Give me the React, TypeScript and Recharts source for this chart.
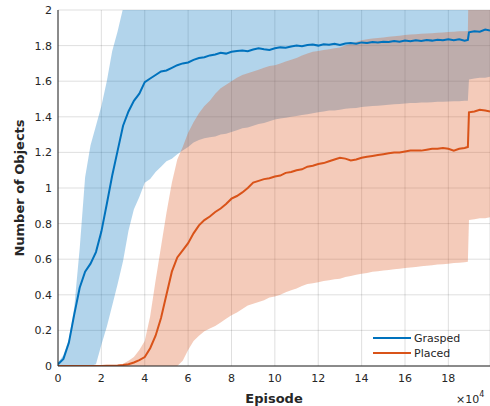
import React from "react";
import { ComposedChart, Area, Line, XAxis, YAxis, CartesianGrid } from "recharts";

// Episode (x 10^4)
const episodes = [
  0, 0.25, 0.5, 0.75, 1, 1.25, 1.5, 1.75, 2, 2.25, 2.5, 2.75, 3, 3.25, 3.5, 3.75,
  4, 4.25, 4.5, 4.75, 5, 5.25, 5.5, 5.75, 6, 6.25, 6.5, 6.75, 7, 7.25, 7.5, 7.75,
  8, 8.25, 8.5, 8.75, 9, 9.25, 9.5, 9.75, 10, 10.25, 10.5, 10.75, 11, 11.25, 11.5, 11.75,
  12, 12.25, 12.5, 12.75, 13, 13.25, 13.5, 13.75, 14, 14.25, 14.5, 14.75, 15, 15.25, 15.5, 15.75,
  16, 16.25, 16.5, 16.75, 17, 17.25, 17.5, 17.75, 18, 18.25, 18.5, 18.75, 18.9, 18.95, 19.2, 19.45,
  19.7, 19.92,
];

const graspedMean = [
  0.01, 0.04, 0.13, 0.29, 0.44, 0.53, 0.575, 0.64, 0.755, 0.91, 1.07, 1.21, 1.35, 1.43, 1.49, 1.53,
  1.595, 1.615, 1.635, 1.655, 1.66, 1.675, 1.69, 1.7, 1.705, 1.72, 1.73, 1.735, 1.745, 1.75, 1.76, 1.755,
  1.765, 1.77, 1.772, 1.768, 1.778, 1.785, 1.78, 1.776, 1.785, 1.79, 1.788, 1.795, 1.8, 1.797, 1.803, 1.806,
  1.8, 1.808, 1.805, 1.81, 1.803, 1.812, 1.815, 1.81, 1.818, 1.815, 1.82, 1.817, 1.822, 1.82, 1.826, 1.822,
  1.828, 1.824, 1.83, 1.826, 1.832, 1.828, 1.833, 1.83, 1.836, 1.83, 1.835, 1.828, 1.832, 1.875, 1.88, 1.878,
  1.89, 1.885,
];

const graspedLow = [
  0, 0, 0, 0, 0, 0, 0, 0.01, 0.12, 0.22, 0.34, 0.46, 0.59, 0.76, 0.88, 0.95,
  1.03, 1.05, 1.09, 1.12, 1.15, 1.165, 1.19, 1.21, 1.23, 1.255, 1.27, 1.28, 1.285, 1.29, 1.3, 1.305,
  1.315, 1.325, 1.335, 1.34, 1.35, 1.36, 1.365, 1.375, 1.385, 1.39, 1.395, 1.4, 1.405, 1.41, 1.415, 1.42,
  1.425, 1.43, 1.435, 1.435, 1.44, 1.445, 1.448, 1.45, 1.455, 1.458, 1.46, 1.462, 1.465, 1.467, 1.47, 1.472,
  1.475, 1.477, 1.478, 1.48, 1.48, 1.482, 1.484, 1.485, 1.486, 1.487, 1.488, 1.49, 1.49, 1.61, 1.615, 1.62,
  1.62, 1.625,
];

const graspedHigh = [
  0.02, 0.06, 0.15, 0.33, 0.66, 1.06, 1.24, 1.35, 1.46, 1.6, 1.77, 1.88, 2.01, 2.1, 2.15, 2.2,
  2.22, 2.24, 2.25, 2.26, 2.27, 2.28, 2.28, 2.29, 2.29, 2.3, 2.3, 2.3, 2.3, 2.3, 2.3, 2.3,
  2.3, 2.3, 2.3, 2.3, 2.3, 2.3, 2.3, 2.3, 2.3, 2.3, 2.3, 2.3, 2.3, 2.3, 2.3, 2.3,
  2.3, 2.3, 2.3, 2.3, 2.3, 2.3, 2.3, 2.3, 2.3, 2.3, 2.3, 2.3, 2.3, 2.3, 2.3, 2.3,
  2.3, 2.3, 2.3, 2.3, 2.3, 2.3, 2.3, 2.3, 2.3, 2.3, 2.3, 2.3, 2.3, 2.3, 2.3, 2.3,
  2.3, 2.3,
];

const placedMean = [
  0, 0, 0, 0, 0, 0, 0, 0, 0, 0.001, 0.002, 0.003, 0.006, 0.01, 0.02, 0.033,
  0.05, 0.1, 0.17, 0.27, 0.4, 0.53, 0.61, 0.65, 0.69, 0.745, 0.79, 0.82, 0.84, 0.865, 0.885, 0.91,
  0.94, 0.955, 0.975, 1.0, 1.03, 1.04, 1.05, 1.055, 1.065, 1.07, 1.085, 1.09, 1.1, 1.105, 1.12, 1.125,
  1.135, 1.14, 1.15, 1.16, 1.17, 1.165, 1.155, 1.16, 1.17, 1.175, 1.18, 1.185, 1.19, 1.195, 1.2, 1.2,
  1.205, 1.21, 1.21, 1.21, 1.215, 1.22, 1.22, 1.225, 1.22, 1.21, 1.22, 1.225, 1.23, 1.425, 1.43, 1.44,
  1.435, 1.43,
];

const placedLow = [
  0, 0, 0, 0, 0, 0, 0, 0, 0, 0, 0, 0, 0, 0, 0, 0,
  0, 0, 0, 0, 0, 0, 0, 0.03, 0.09, 0.14, 0.17, 0.195, 0.21, 0.225, 0.245, 0.265,
  0.285, 0.3, 0.32, 0.34, 0.35, 0.36, 0.37, 0.385, 0.39, 0.4, 0.415, 0.425, 0.435, 0.45, 0.46, 0.465,
  0.47, 0.478, 0.482, 0.487, 0.49, 0.5, 0.505, 0.513, 0.518, 0.523, 0.53, 0.533, 0.537, 0.54, 0.543, 0.546,
  0.55, 0.553, 0.556, 0.56, 0.563, 0.566, 0.57, 0.572, 0.575, 0.578, 0.58, 0.583, 0.585, 0.82, 0.825, 0.83,
  0.83, 0.835,
];

const placedHigh = [
  0, 0, 0, 0, 0, 0, 0, 0, 0, 0, 0, 0.002, 0.012, 0.03, 0.05, 0.09,
  0.14, 0.28, 0.48, 0.67, 0.86, 1.03, 1.16, 1.23, 1.31, 1.37, 1.42, 1.46, 1.49, 1.53, 1.56, 1.58,
  1.6, 1.62, 1.635, 1.645, 1.655, 1.665, 1.675, 1.685, 1.69, 1.7, 1.71, 1.72, 1.73, 1.745, 1.755, 1.765,
  1.77, 1.775, 1.78, 1.785, 1.79, 1.8, 1.81, 1.82, 1.83, 1.835, 1.84, 1.843, 1.846, 1.85, 1.852, 1.855,
  1.86, 1.862, 1.864, 1.866, 1.868, 1.87, 1.872, 1.874, 1.876, 1.878, 1.88, 1.88, 1.882, 2.3, 2.3, 2.3,
  2.3, 2.3,
];

const xTicks = [0, 2, 4, 6, 8, 10, 12, 14, 16, 18];
const yTicks = [0, 0.2, 0.4, 0.6, 0.8, 1, 1.2, 1.4, 1.6, 1.8, 2];
const seriesNames = ["Grasped", "Placed"];

const BLUE = "#0072BD";
const ORANGE = "#D95319";
const AXIS = "#262626";
const FONT = "'DejaVu Sans', sans-serif";

const data = episodes.map((x, i) => ({
  x,
  gMean: graspedMean[i],
  gBand: [graspedLow[i], graspedHigh[i]],
  pMean: placedMean[i],
  pBand: [placedLow[i], placedHigh[i]],
}));

export default function App() {
  const tickStyle = { fill: AXIS, fontSize: 11, fontFamily: FONT };
  return (
    <div style={{ position: "fixed", left: 0, top: 0, width: 490, height: 406, background: "#fff" }}>
      <ComposedChart
        width={490}
        height={406}
        data={data}
        margin={{ top: 10, right: 0, bottom: 10, left: 0 }}
      >
        <CartesianGrid stroke={AXIS} strokeOpacity={0.15} strokeWidth={1} />
        <XAxis
          dataKey="x"
          type="number"
          domain={[0, 19.92]}
          allowDataOverflow
          ticks={xTicks}
          height={30}
          tickLine={false}
          tickSize={0}
          tickMargin={8}
          tick={tickStyle}
          axisLine={{ stroke: AXIS, strokeWidth: 1 }}
        />
        <YAxis
          type="number"
          domain={[0, 2]}
          allowDataOverflow
          ticks={yTicks}
          width={58}
          tickLine={false}
          tickSize={0}
          tickMargin={6}
          tick={tickStyle}
          axisLine={{ stroke: AXIS, strokeWidth: 1 }}
        />
        <Area
          dataKey="gBand"
          type="linear"
          stroke="none"
          fill={BLUE}
          fillOpacity={0.3}
          isAnimationActive={false}
          legendType="none"
          activeDot={false}
        />
        <Line
          dataKey="gMean"
          type="linear"
          stroke={BLUE}
          strokeWidth={2}
          dot={false}
          activeDot={false}
          isAnimationActive={false}
          name={seriesNames[0]}
        />
        <Area
          dataKey="pBand"
          type="linear"
          stroke="none"
          fill={ORANGE}
          fillOpacity={0.3}
          isAnimationActive={false}
          legendType="none"
          activeDot={false}
        />
        <Line
          dataKey="pMean"
          type="linear"
          stroke={ORANGE}
          strokeWidth={2}
          dot={false}
          activeDot={false}
          isAnimationActive={false}
          name={seriesNames[1]}
        />
      </ComposedChart>
      <svg
        width={490}
        height={406}
        style={{ position: "absolute", left: 0, top: 0, pointerEvents: "none" }}
      >
        <text
          x={23.5}
          y={188}
          transform="rotate(-90, 23.5, 188)"
          textAnchor="middle"
          fontFamily={FONT}
          fontWeight="bold"
          fontSize={13}
          fill={AXIS}
        >
          Number of Objects
        </text>
        <text x={274} y={403} textAnchor="middle" fontFamily={FONT} fontWeight="bold" fontSize={13} fill={AXIS}>
          Episode
        </text>
        <text x={456} y={403} fontFamily={FONT} fontSize={11} fill={AXIS}>
          ×10
          <tspan dy={-6} fontSize={8}>4</tspan>
        </text>
        <line x1={373} x2={411} y1={338} y2={338} stroke={BLUE} strokeWidth={2} />
        <text x={414} y={342} fontFamily={FONT} fontSize={11} fill={AXIS}>
          {seriesNames[0]}
        </text>
        <line x1={373} x2={411} y1={353} y2={353} stroke={ORANGE} strokeWidth={2} />
        <text x={414} y={357} fontFamily={FONT} fontSize={11} fill={AXIS}>
          {seriesNames[1]}
        </text>
      </svg>
    </div>
  );
}
